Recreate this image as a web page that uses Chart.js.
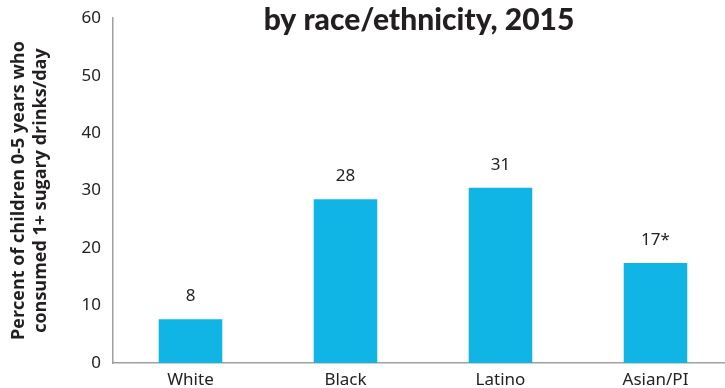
<!DOCTYPE html>
<html lang="en">
<head>
  <meta charset="UTF-8" />
  <title>Sugary drinks by race/ethnicity, 2015</title>
  <script src="https://cdn.jsdelivr.net/npm/chart.js"></script>
  <style>
    html, body { margin: 0; padding: 0; background: #fff; overflow: hidden; }
    #wrap { position: absolute; left: 0; top: -4px; width: 740px; height: 400px; }
  </style>
</head>
<body>
  <div id="wrap"><canvas id="drinkChart" width="740" height="400"></canvas></div>

  <script>
    // data
    const categories = ["White", "Black", "Latino", "Asian/PI"];
    const percents = [7.6, 28.5, 30.5, 17.4];
    const valueLabels = ["8", "28", "31", "17*"];
    const yTicks = [0, 10, 20, 30, 40, 50, 60];

    const titleText = "by race/ethnicity, 2015";
    const yTitle = ["Percent of children 0-5 years who", "consumed 1+ sugary drinks/day"];

    // title + value labels on top of bars
    const extras = {
      id: "extras",
      afterDatasetsDraw(chart) {
        const ctx = chart.ctx;
        const area = chart.chartArea;
        ctx.save();
        ctx.fillStyle = "#231f20";
        ctx.textAlign = "center";
        ctx.textBaseline = "alphabetic";
        ctx.font = "900 30px Lato, 'Open Sans', sans-serif";
        ctx.fillText(titleText, (area.left + 725) / 2, 34);

        ctx.font = "17px 'Noto Sans', sans-serif";
        ctx.fillStyle = "#222";
        const meta = chart.getDatasetMeta(0);
        meta.data.forEach((bar, i) => {
          ctx.fillText(valueLabels[i], bar.x, bar.y - 18);
        });
        ctx.restore();
      }
    };

    const ctx = document.getElementById("drinkChart").getContext("2d");
    new Chart(ctx, {
      type: "bar",
      data: {
        labels: categories,
        datasets: [{
          data: percents,
          backgroundColor: "#10b5e5",
          borderWidth: 0,
          categoryPercentage: 1,
          barPercentage: 0.41
        }]
      },
      options: {
        responsive: false,
        animation: false,
        layout: { padding: { top: 0, right: 7, bottom: 0, left: 0 } },
        plugins: {
          legend: { display: false },
          tooltip: { enabled: false }
        },
        scales: {
          x: {
            grid: { display: false, drawTicks: false },
            border: { color: "#a0a0a0", width: 1.5 },
            ticks: { color: "#222", padding: 7, font: { family: "'Noto Sans', sans-serif", size: 17 } },
            afterFit(scale) { scale.height = 33; }
          },
          y: {
            min: 0,
            max: 60,
            afterBuildTicks(scale) { scale.ticks = yTicks.map(v => ({ value: v })); },
            grid: { display: false, drawTicks: false },
            border: { color: "#a0a0a0", width: 1.5 },
            ticks: { color: "#222", padding: 12, font: { family: "'Noto Sans', sans-serif", size: 17 } },
            title: {
              display: true,
              text: yTitle,
              color: "#231f20",
              font: { family: "'Open Sans', sans-serif", size: 18, weight: "bold" },
              padding: { top: 8, bottom: 0 }
            },
            afterFit(scale) { scale.width = 113; }
          }
        }
      },
      plugins: [extras]
    });
  </script>
</body>
</html>
